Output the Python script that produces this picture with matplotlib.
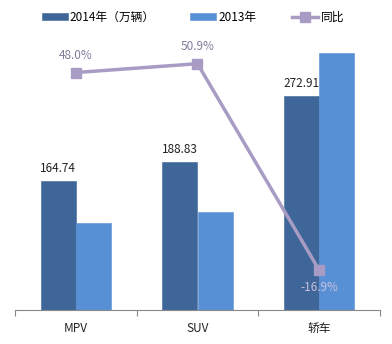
import numpy as np
import matplotlib.pyplot as plt

plt.rcParams['font.family'] = ['Noto Sans CJK SC', 'DejaVu Sans']

# 分车型销量（万辆）及同比增速
categories = ['MPV', 'SUV', '轿车']
sales_2014 = [164.74, 188.83, 272.91]
sales_2013 = [111.31, 125.14, 328.41]
growth = [48.0, 50.9, -16.9]

c2014 = '#3E6699'
c2013 = '#5890D6'
cline = '#A89CC4'

fig = plt.figure(figsize=(3.92, 3.44), dpi=100)
ax = fig.add_axes([15 / 392, 34 / 344, 365 / 392, 274 / 344])
ax2 = ax.twinx()

x = np.arange(len(categories))
w = 0.288
b1 = ax.bar(x - w / 2, sales_2014, w, color=c2014, ec=c2014, lw=0.4,
            label='2014年（万辆）', zorder=2)
b2 = ax.bar(x + w / 2, sales_2013, w, color=c2013, ec=c2013, lw=0.4,
            label='2013年', zorder=2)

for xi, v in zip(x, sales_2014):
    ax.text(xi - w / 2, v + 8, f'{v:.2f}', ha='center', va='bottom',
            fontsize=8.5, color='#222222')

ax2.plot(x, growth, color=cline, lw=2.5, marker='s', ms=7,
         mfc=cline, mec=cline, label='同比', zorder=3)
for xi, g in zip(x, growth):
    if g >= 0:
        ax2.text(xi, g + 3.5, f'{g:.1f}%', ha='center', va='bottom',
                 fontsize=8.5, color='#847B9C')
    else:
        ax2.text(xi, g - 3.5, f'{g:.1f}%', ha='center', va='top',
                 fontsize=8.5, color='#C9C0DD')

ax.set_xlim(-0.5, 2.5)
ax.set_ylim(0, 350)
ax2.set_ylim(-30, 60)

# 类别名放在次刻度，主刻度画在类别分界处
ax.set_xticks([-0.5, 0.5, 1.5, 2.5])
ax.set_xticklabels([])
ax.set_xticks(x, minor=True)
ax.set_xticklabels(categories, minor=True, fontsize=8.5, color='#222222')
ax.tick_params(axis='x', which='major', length=4, color='#888888', direction='out')
ax.tick_params(axis='x', which='minor', length=0, pad=9)

ax.set_yticks([])
ax2.set_yticks([])
for a in (ax, ax2):
    for s in ['top', 'right', 'left']:
        a.spines[s].set_visible(False)
ax.spines['bottom'].set_color('#888888')
ax2.spines['bottom'].set_visible(False)

handles = [b1, b2] + ax2.get_lines()
labels = ['2014年（万辆）', '2013年', '同比']
fig.legend(handles, labels, loc='upper center', bbox_to_anchor=(0.492, 1.0),
           ncol=3, frameon=False, fontsize=8.5, handlelength=2.2,
           handleheight=0.45, columnspacing=3.0, handletextpad=0.2)

fig.savefig('out.png', dpi=100)
